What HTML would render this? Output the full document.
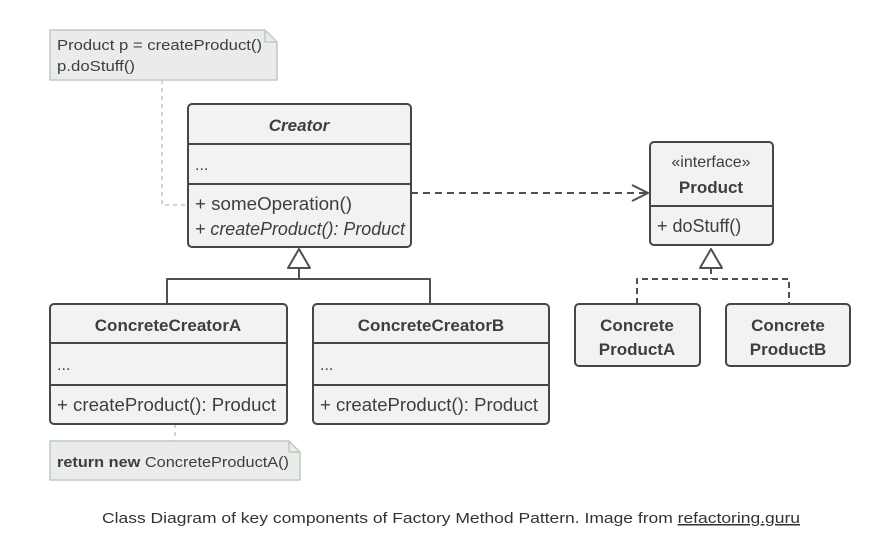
<!DOCTYPE html>
<html><head><meta charset="utf-8"><style>
html,body{margin:0;padding:0;background:#fff;}
svg{display:block;font-family:"Liberation Sans",sans-serif;}
</style></head><body>
<svg width="884" height="559" viewBox="0 0 884 559" xmlns="http://www.w3.org/2000/svg">
<g fill="none" stroke-linejoin="round">
<path d="M50 30 H265 L277 42 V80 H50 Z" fill="#ebebeb" stroke="#b9cfb9" stroke-width="1.5"/>
<path d="M265 30 V42 H277" stroke="#b9cfb9" stroke-width="1.5"/>
<path d="M162 80 V205 H188" stroke="#b9cbb9" stroke-width="1.5" stroke-dasharray="4,4"/>
<path d="M50 441 H289 L300 452 V480 H50 Z" fill="#ebebeb" stroke="#b9cfb9" stroke-width="1.5"/>
<path d="M289 441 V452 H300" stroke="#b9cfb9" stroke-width="1.5"/>
<path d="M175 424 V441" stroke="#b9cbb9" stroke-width="1.5" stroke-dasharray="4,4"/>
<path d="M299 268 V279 M167 304 V279 H430 V304" stroke="#4e514e" stroke-width="2"/>
<path d="M299 249 L288 268 H310 Z" fill="#fff" stroke="#4e514e" stroke-width="2"/>
<path d="M711 268 V279 M637 304 V279 H789 V304" stroke="#4e514e" stroke-width="2" stroke-dasharray="6,4"/>
<path d="M711 249 L700 268 H722 Z" fill="#fff" stroke="#4e514e" stroke-width="2"/>
<path d="M411 193 H648" stroke="#4e514e" stroke-width="2" stroke-dasharray="7,5"/>
<path d="M632 185 L648 193 L632 201" stroke="#4e514e" stroke-width="2"/>
<g fill="#f2f2f2" stroke="#444844" stroke-width="2">
<rect x="188" y="104" width="223" height="143" rx="4"/>
<rect x="50" y="304" width="237" height="120" rx="4"/>
<rect x="313" y="304" width="236" height="120" rx="4"/>
<rect x="650" y="142" width="123" height="103" rx="4"/>
<rect x="575" y="304" width="125" height="62" rx="4"/>
<rect x="726" y="304" width="124" height="62" rx="4"/>
</g>
<path d="M188 144 H411 M188 184 H411 M50 343 H287 M50 385 H287 M313 343 H549 M313 385 H549 M650 206 H773" stroke="#444844" stroke-width="2"/>
</g>
<g fill="#3c3f3c" font-size="16">
<text x="57" y="50" font-size="15" textLength="205" lengthAdjust="spacingAndGlyphs">Product p = createProduct()</text>
<text x="57" y="71" font-size="15" textLength="78" lengthAdjust="spacingAndGlyphs">p.doStuff()</text>
<text x="57" y="467" font-size="15" textLength="232" lengthAdjust="spacingAndGlyphs"><tspan font-weight="bold">return new</tspan> ConcreteProductA()</text>
<text x="299" y="131" text-anchor="middle" font-weight="bold" font-style="italic" font-size="17">Creator</text>
<text x="195" y="170">...</text>
<text x="195" y="210" font-size="18" textLength="157" lengthAdjust="spacingAndGlyphs">+ someOperation()</text>
<text x="195" y="235" font-size="18" font-style="italic" textLength="210" lengthAdjust="spacingAndGlyphs">+ createProduct(): Product</text>
<text x="168" y="331" text-anchor="middle" font-weight="bold" font-size="17">ConcreteCreatorA</text>
<text x="57" y="370">...</text>
<text x="57" y="411" font-size="18" textLength="219" lengthAdjust="spacingAndGlyphs">+ createProduct(): Product</text>
<text x="431" y="331" text-anchor="middle" font-weight="bold" font-size="17">ConcreteCreatorB</text>
<text x="320" y="370">...</text>
<text x="320" y="411" font-size="18" textLength="218" lengthAdjust="spacingAndGlyphs">+ createProduct(): Product</text>
<text x="711" y="167" text-anchor="middle">«interface»</text>
<text x="711" y="193" text-anchor="middle" font-weight="bold" font-size="17">Product</text>
<text x="657" y="232" font-size="18">+ doStuff()</text>
<text x="637" y="331" text-anchor="middle" font-weight="bold" font-size="17">Concrete</text>
<text x="637" y="355" text-anchor="middle" font-weight="bold" font-size="17">ProductA</text>
<text x="788" y="331" text-anchor="middle" font-weight="bold" font-size="17">Concrete</text>
<text x="788" y="355" text-anchor="middle" font-weight="bold" font-size="17">ProductB</text>
</g>
<text x="102" y="523" font-size="15" fill="#333" textLength="698" lengthAdjust="spacingAndGlyphs">Class Diagram of key components of Factory Method Pattern. Image from <tspan text-decoration="underline">refactoring.guru</tspan></text>
</svg>
</body></html>
